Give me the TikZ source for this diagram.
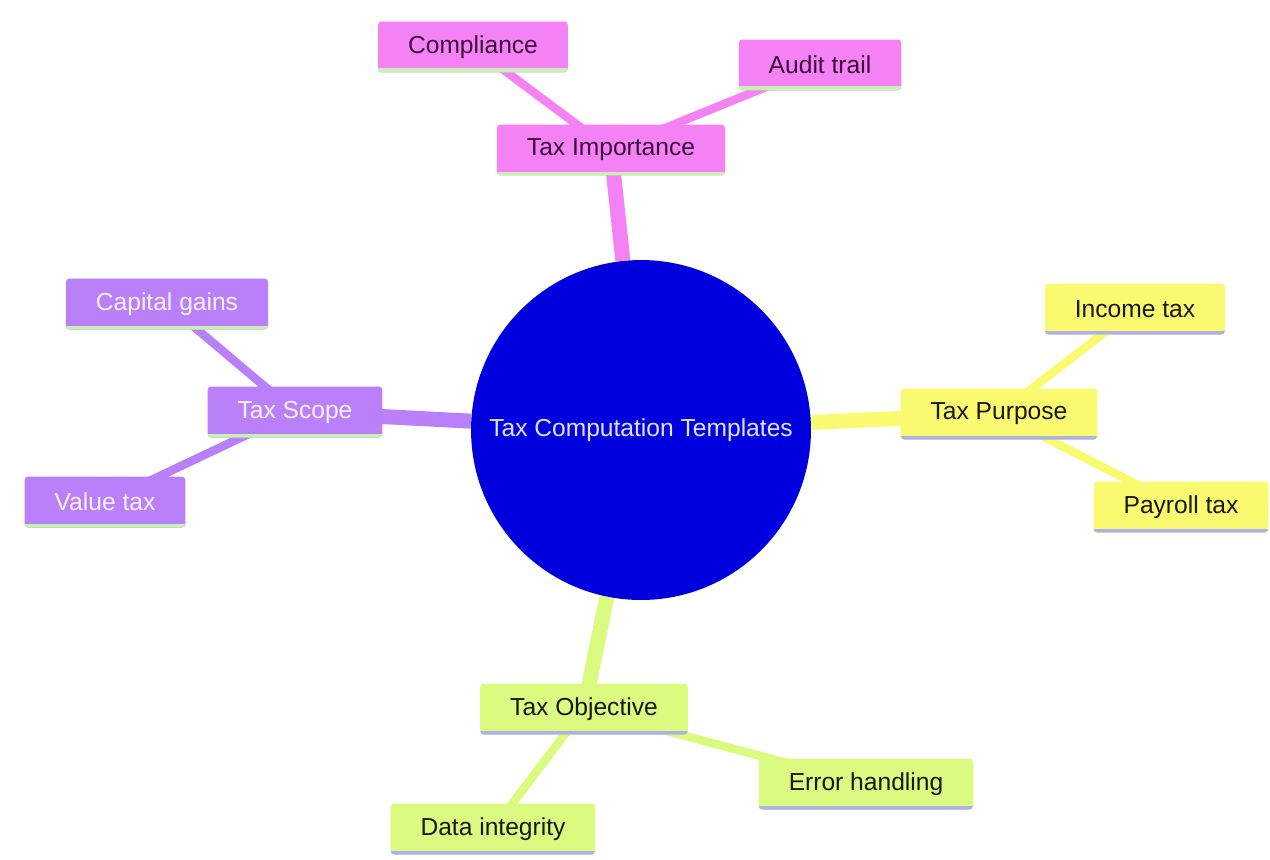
\documentclass[tikz,border=0pt]{standalone}
\usepackage{fontspec}
\setmainfont{Liberation Sans}
\usetikzlibrary{backgrounds}
\definecolor{impfill}{RGB}{245,130,245}
\definecolor{scopefill}{RGB}{186,128,250}
\definecolor{purpfill}{RGB}{250,250,112}
\definecolor{objfill}{RGB}{218,250,128}
\definecolor{rootfill}{RGB}{0,0,222}
\definecolor{greenband}{RGB}{200,240,180}
\definecolor{lavband}{RGB}{176,176,232}

\begin{document}
\begin{tikzpicture}[
    x=0.02cm, y=-0.02cm,
    font=\fontsize{14}{16}\selectfont,
    topic/.style={rectangle, rounded corners=2pt, inner xsep=0.6cm, minimum height=1.02cm, fill=#1},
    band/.style={path picture={\draw[#1, line width=0.16cm] (path picture bounding box.south west) -- (path picture bounding box.south east);}},
    imp/.style={topic=impfill, band=greenband, text={rgb,255:red,60;green,10;blue,60}},
    scp/.style={topic=scopefill, band=greenband, text={rgb,255:red,248;green,242;blue,255}},
    pur/.style={topic=purpfill, band=lavband, text={rgb,255:red,25;green,25;blue,25}},
    obj/.style={topic=objfill, band=lavband, text={rgb,255:red,25;green,25;blue,25}},
    trunk/.style={line width=0.3cm, draw=#1},
    twig/.style={line width=0.17cm, draw=#1}
  ]
    \useasboundingbox (0,0) rectangle (1270,859);

    \node[circle, fill=rootfill, minimum size=6.8cm, text={rgb,255:red,225;green,225;blue,255}] (root) at (641,430) {Tax Computation Templates};

    \node[imp] (importance) at (611,150) {Tax Importance};
    \node[imp] (compliance) at (473,47) {Compliance};
    \node[imp] (audit) at (820,65) {Audit trail};

    \node[scp] (scope) at (295,412) {Tax Scope};
    \node[scp] (capital) at (167,304) {Capital gains};
    \node[scp] (value) at (105,502) {Value tax};

    \node[pur] (purpose) at (999,414) {Tax Purpose};
    \node[pur] (income) at (1135,309) {Income tax};
    \node[pur] (payroll) at (1181,507) {Payroll tax};

    \node[obj] (objective) at (584,709) {Tax Objective};
    \node[obj] (error) at (866,784) {Error handling};
    \node[obj] (integrity) at (493,829) {Data integrity};

    % branches go behind the boxes
    \begin{scope}[on background layer]
      \draw[trunk=impfill] (root) -- (importance.center);
      \draw[twig=impfill] (importance.center) -- (compliance.center);
      \draw[twig=impfill] (importance.center) -- (audit.center);

      \draw[trunk=scopefill] (root) -- (scope.center);
      \draw[twig=scopefill] (scope.center) -- (capital.center);
      \draw[twig=scopefill] (scope.center) -- (value.center);

      \draw[trunk=purpfill] (root) -- (purpose.center);
      \draw[twig=purpfill] (purpose.center) -- (income.center);
      \draw[twig=purpfill] (purpose.center) -- (payroll.center);

      \draw[trunk=objfill] (root) -- (objective.center);
      \draw[twig=objfill] (objective.center) -- (error.center);
      \draw[twig=objfill] (objective.center) -- (integrity.center);
    \end{scope}

\end{tikzpicture}
\end{document}
